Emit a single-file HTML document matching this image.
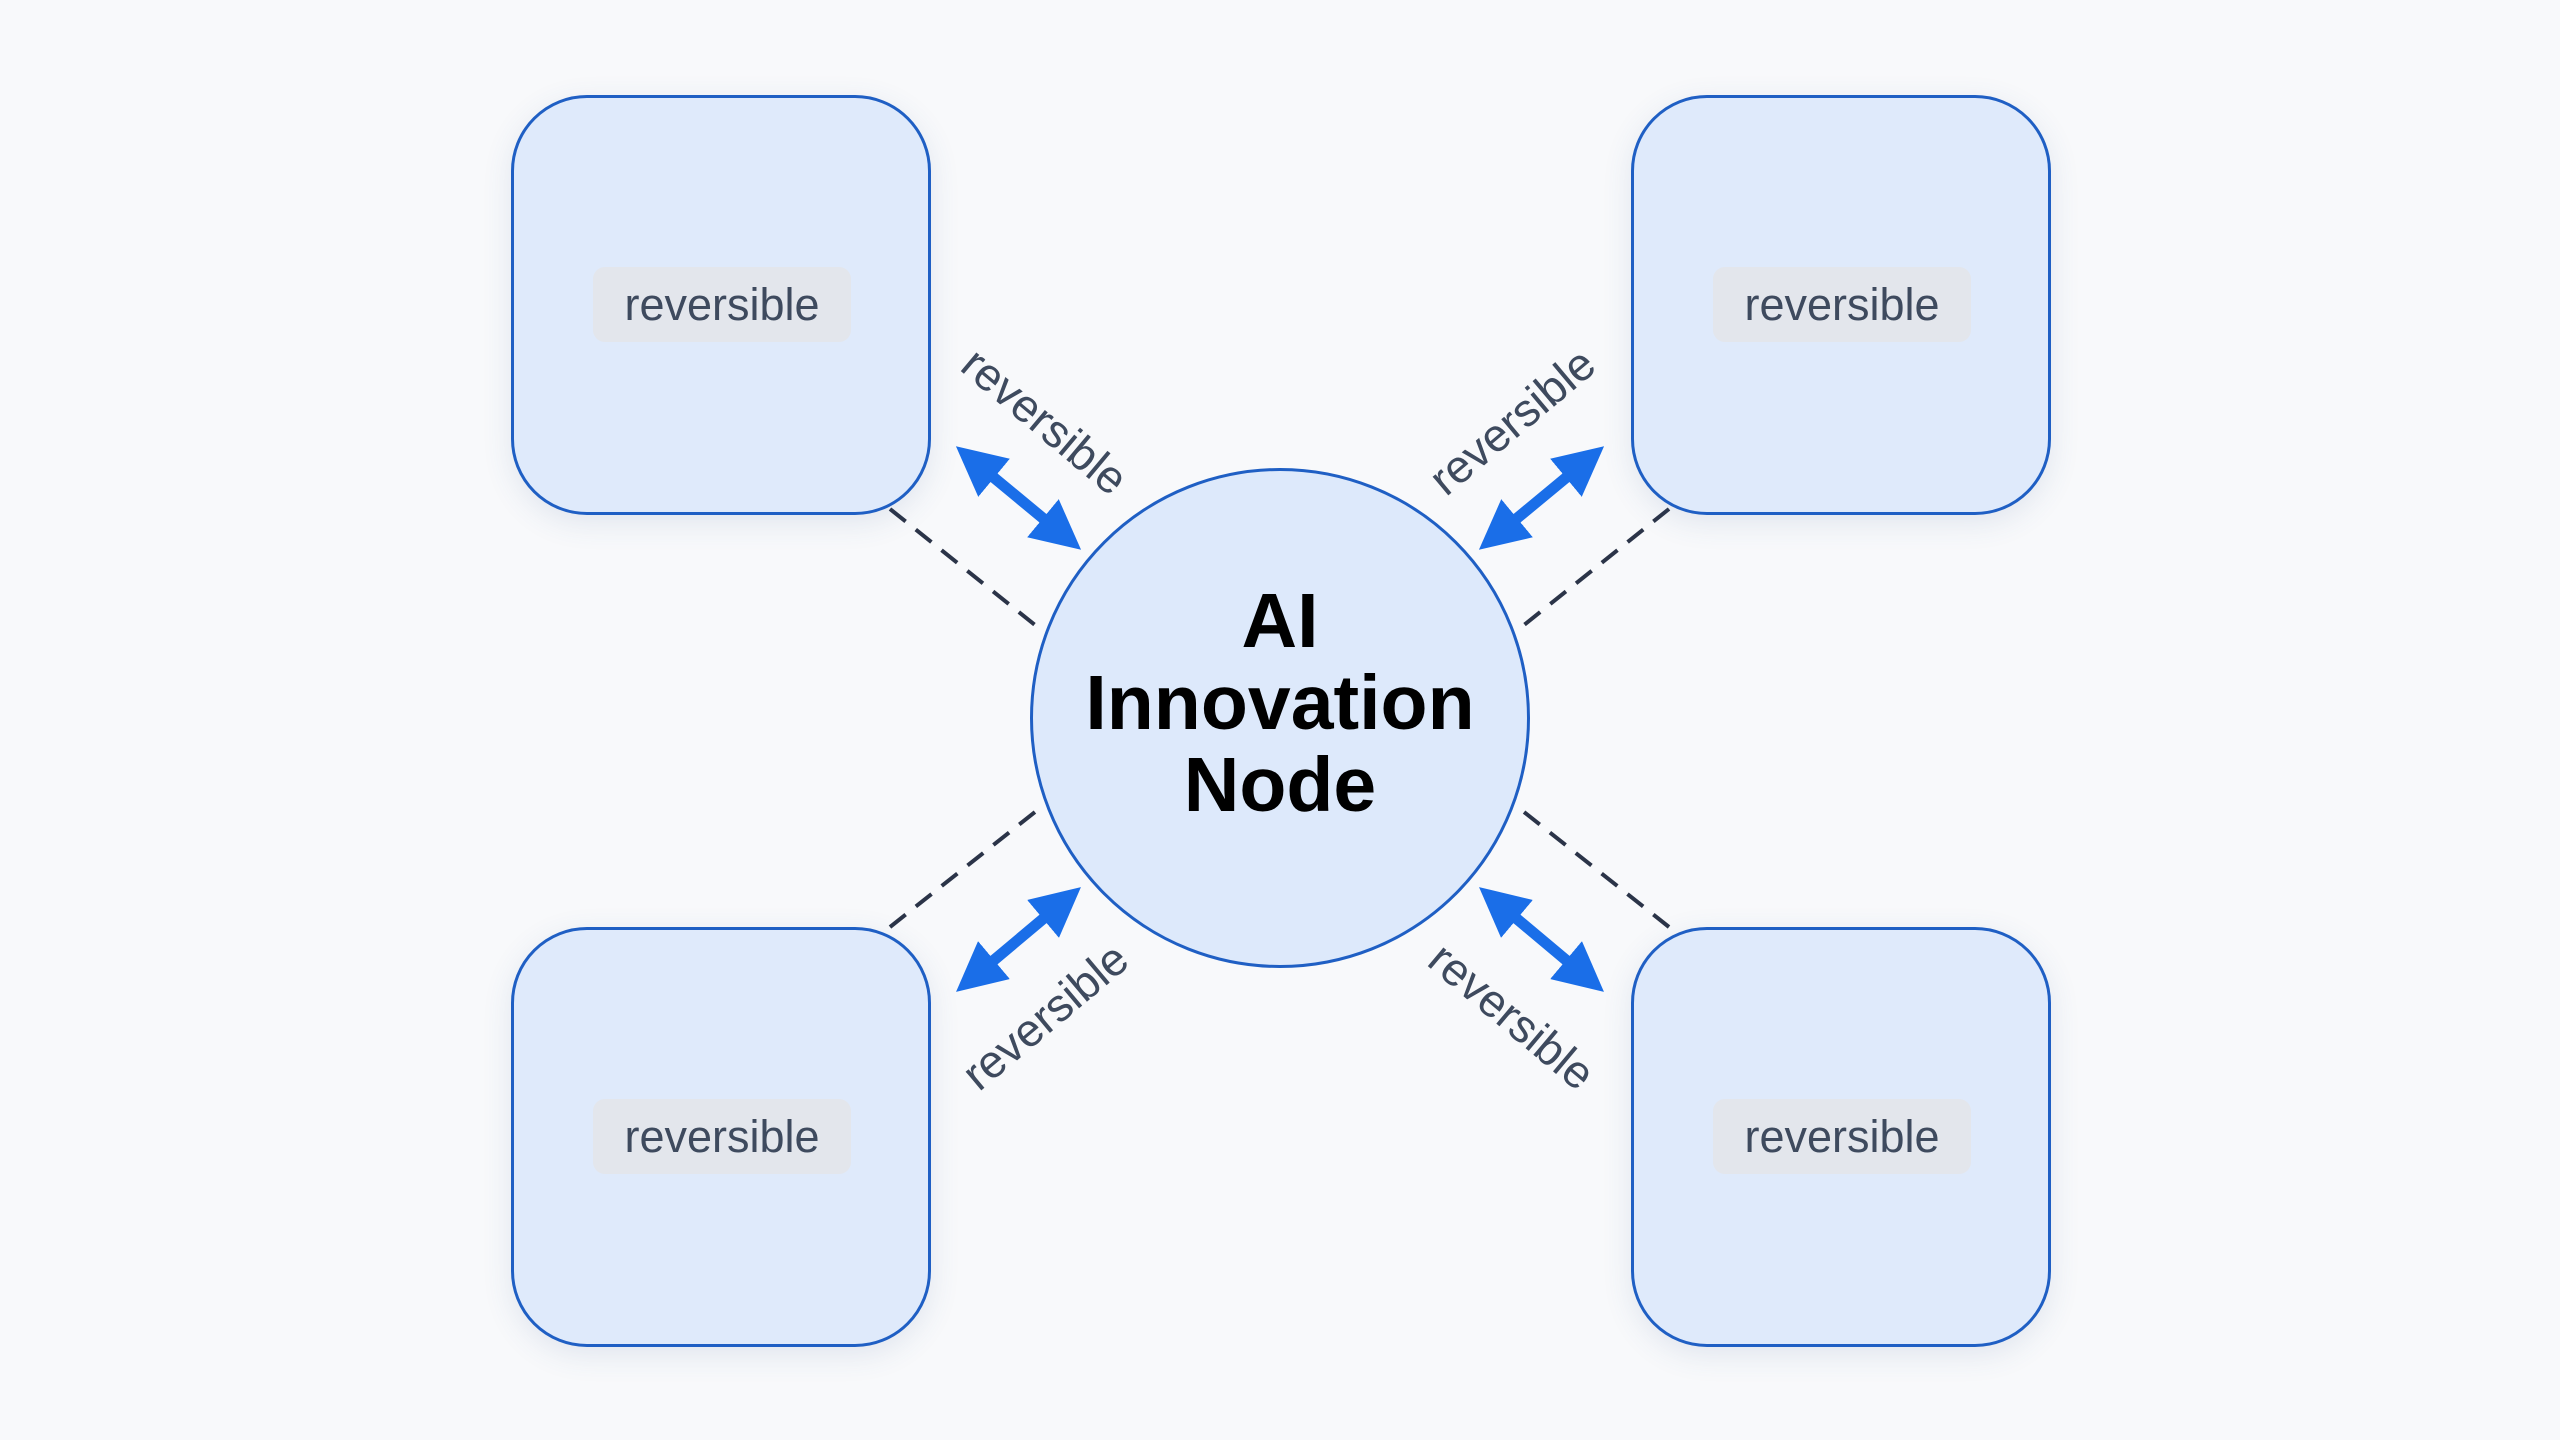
<!DOCTYPE html>
<html><head><meta charset="utf-8"><style>
html,body{margin:0;padding:0;}
body{width:2560px;height:1440px;background:#f8f9fb;overflow:hidden;position:relative;font-family:"Liberation Sans",sans-serif;}
.box{position:absolute;width:420px;height:420px;box-sizing:border-box;border:3px solid #1f5fc4;border-radius:76px;background:#dfeafb;box-shadow:0 8px 30px rgba(60,90,150,0.12);}
.pill{position:absolute;left:79px;top:169px;width:258px;height:75px;background:#e3e6ec;border-radius:12px;color:#3e4a5e;font-size:45px;line-height:75px;text-align:center;}
.circle{position:absolute;left:1030px;top:468px;width:500px;height:500px;box-sizing:border-box;border:3px solid #1f5fc4;border-radius:50%;background:#dde9fb;}
.ctext{position:absolute;left:1030px;top:580px;width:500px;text-align:center;font-weight:bold;font-size:77px;line-height:82px;color:#000;}
.lbl{position:absolute;font-size:46px;color:#3e4a5e;width:300px;text-align:center;line-height:50px;margin-left:-150px;margin-top:-25px;}
</style></head><body>
<svg width="2560" height="1440" style="position:absolute;left:0;top:0">
<defs><marker id="a" viewBox="0 0 10 10" refX="5" refY="5" markerWidth="4.5" markerHeight="4.5" orient="auto-start-reverse"><path d="M0,0 L10,5 L0,10 z" fill="#1a6ee8"/></marker></defs>
<g stroke="#2b3448" stroke-width="4" stroke-dasharray="20 13" fill="none">
<line x1="890" y1="509" x2="1040" y2="629"/>
<line x1="1669" y1="509" x2="1519" y2="629"/>
<line x1="890" y1="927" x2="1040" y2="808"/>
<line x1="1669" y1="927" x2="1519" y2="808"/>
</g>
<g stroke="#1a6ee8" stroke-width="11" marker-start="url(#a)" marker-end="url(#a)">
<line x1="975" y1="462" x2="1062" y2="534"/>
<line x1="1585" y1="462" x2="1498" y2="534"/>
<line x1="975" y1="976" x2="1062" y2="903"/>
<line x1="1585" y1="976" x2="1498" y2="903"/>
</g>
</svg>
<div class="box" style="left:511px;top:95px"><div class="pill">reversible</div></div>
<div class="box" style="left:1631px;top:95px"><div class="pill">reversible</div></div>
<div class="box" style="left:511px;top:927px"><div class="pill">reversible</div></div>
<div class="box" style="left:1631px;top:927px"><div class="pill">reversible</div></div>
<div class="circle"></div>
<div class="ctext">AI<br>Innovation<br>Node</div>
<div class="lbl" style="left:1045px;top:421px;transform:rotate(40deg)">reversible</div>
<div class="lbl" style="left:1512px;top:421px;transform:rotate(-40deg)">reversible</div>
<div class="lbl" style="left:1045px;top:1016px;transform:rotate(-40deg)">reversible</div>
<div class="lbl" style="left:1512px;top:1016px;transform:rotate(40deg)">reversible</div>
</body></html>
